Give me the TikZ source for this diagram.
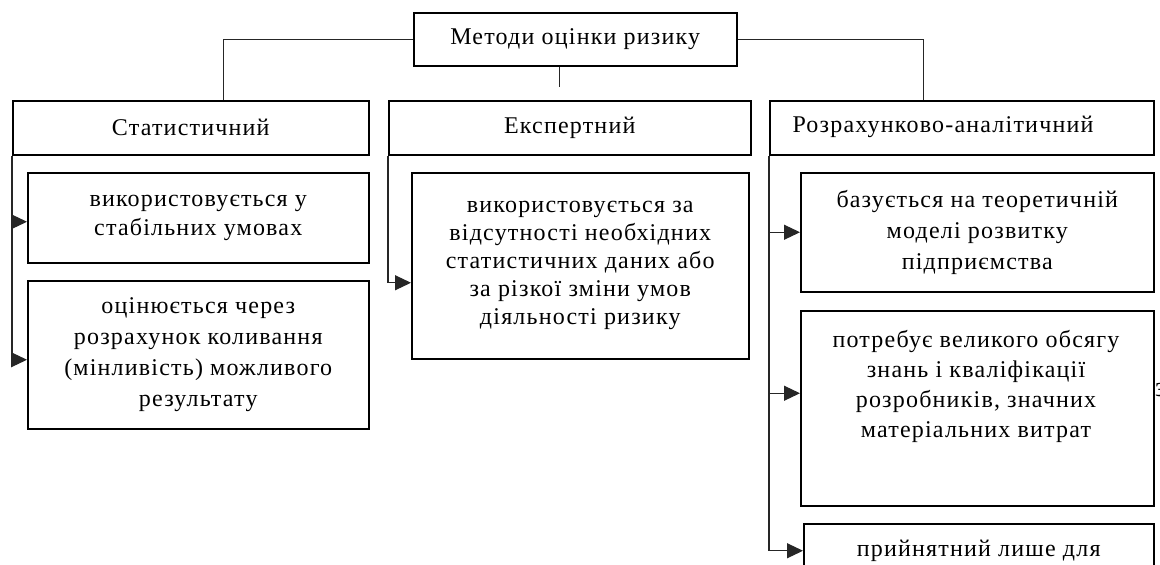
\documentclass[tikz,border=0pt]{standalone}
\usepackage{fontspec}
\setmainfont[LetterSpace=5]{Liberation Serif}
\usetikzlibrary{arrows.meta}
\begin{document}
\begin{tikzpicture}[x=1pt,y=-1pt,
  box/.style={draw=black, line width=1.5pt, rectangle, inner sep=0pt, anchor=north west,
              align=center, font=\fontsize{24}{29}\selectfont},
  conn/.style={draw=black!85, line width=1.1pt},
  arr/.style={conn, -{Triangle[length=16pt,width=15pt]}},
  txt/.style={inner sep=0pt, align=center, font=\fontsize{24}{30}\selectfont}]
\fill[white] (0,0) rectangle (1160,565);
\useasboundingbox (0,0) rectangle (1160,565);

% top
\node[box, minimum width=323pt, minimum height=53pt] (top) at (413,12) {Методи оцінки ризику};

% level 2
\node[box, minimum width=356pt, minimum height=54pt] (stat) at (12,100) {Статистичний};
\node[box, minimum width=362pt, minimum height=54pt] (exp) at (388,100) {Експертний};
\node[box, minimum width=384pt, minimum height=54pt] (calc) at (769,100) {};
\node[txt] (calct) at (943,127) {Розрахунково-аналітичний};

% children
\node[box, minimum width=341pt, minimum height=90pt] (s1) at (27,172) {використовується у\\стабільних умовах};
\node[box, minimum width=341pt, minimum height=148pt, font=\fontsize{24}{31}\selectfont] (s2) at (27,280) {оцінюється через\\розрахунок коливання\\(мінливість) можливого\\результату};
\node[box, minimum width=337pt, minimum height=186pt, font=\fontsize{24}{28}\selectfont] (e1) at (411,172) {використовується за\\відсутності необхідних\\статистичних даних або\\за різкої зміни умов\\діяльності ризику};
\node[box, minimum width=353pt, minimum height=119pt, font=\fontsize{24}{31}\selectfont] (r1) at (800,172) {базується на теоретичній\\моделі розвитку\\підприємства};
\node[box, minimum width=353pt, minimum height=195pt] (r2) at (800,310) {};
\node[txt] (r2t) at (976,386) {потребує великого обсягу\\знань і кваліфікації\\розробників, значних\\матеріальних витрат};
\node[box, minimum width=350pt, minimum height=54pt] (r3) at (803,523) {прийнятний лише для};
\node[inner sep=0pt, anchor=west, font=\fontsize{28}{30}\selectfont] (stray) at (1155,390) {з};

% connectors
\draw[conn] (top.west) -| ([xshift=33pt]stat.north);
\draw[conn] (top.east) -| ([xshift=-38pt]calc.north);
\draw[conn] ([xshift=-16pt]top.south) -- ++(0,20);

\draw[arr] (stat.south west) |- ([yshift=-4pt]s1.west);
\draw[arr] (stat.south west) |- ([yshift=-5pt]s2.west);
\draw[arr] (exp.south west) |- ([yshift=-17pt]e1.west);
\draw[arr] (calc.south west) |- (r1.west);
\draw[arr] (calc.south west) |- ([yshift=15pt]r2.west);
\draw[arr] (calc.south west) |- (r3.west);
\end{tikzpicture}
\end{document}
